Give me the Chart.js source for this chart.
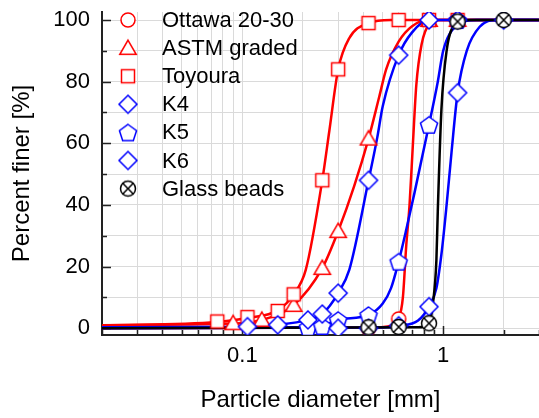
<!DOCTYPE html>
<html>
<head>
<meta charset="utf-8">
<title>Particle size distribution</title>
<script src="https://cdn.jsdelivr.net/npm/chart.js"></script>
<style>
  body { margin: 0; background: #fff; }
  #wrap { width: 539px; height: 418px; }
</style>
</head>
<body>
<div id="wrap"><canvas id="myChart"></canvas></div>
<script>
// measured points (sieve sizes in mm, percent finer)
var ottD = [0.425, 0.6, 0.85, 1.18];
var ottP = [0, 3, 100, 100];
var astmD = [0.09, 0.125, 0.18, 0.25, 0.3, 0.425, 0.85, 1.18];
var astmP = [1.6, 2.7, 7.5, 19.5, 31.5, 61.5, 100, 100];
var toyD = [0.075, 0.106, 0.15, 0.18, 0.25, 0.3, 0.425, 0.6, 0.85, 1.18];
var toyP = [2.2, 3.6, 5.6, 11, 48, 84, 99, 100, 100, 100];
var k4D = [0.106, 0.15, 0.212, 0.25, 0.3, 0.425, 0.6, 0.85, 1.18];
var k4P = [0.5, 1.1, 2.7, 4.6, 11.4, 48, 88.6, 100, 100];
var k5D = [0.212, 0.25, 0.3, 0.425, 0.6, 0.85, 1.18];
var k5P = [0.3, 0.7, 2.7, 4.3, 21.6, 66, 100];
var k6D = [0.3, 0.425, 0.6, 0.85, 1.18, 2.0];
var k6P = [0, 0, 0.8, 7, 76.4, 100];
var gbD = [0.425, 0.6, 0.85, 1.18, 2.0];
var gbP = [0.3, 0.4, 1.6, 99.5, 100];

// fitted curves
var ottFitD = [0.02, 0.45, 0.55, 0.6, 0.63, 0.655, 0.68, 0.707, 0.735, 0.78, 0.86, 0.95, 3];
var ottFitP = [0, 0.2, 0.8, 3, 10, 27, 40, 60, 79, 92, 99, 100, 100];
var astmFitD = [0.02, 0.09, 0.125, 0.18, 0.25, 0.3, 0.36, 0.425, 0.48, 0.52, 0.6, 0.7, 0.85, 3];
var astmFitP = [1.0, 1.5, 2.7, 7.5, 19.5, 31.5, 46, 61.5, 75, 84, 93, 98, 100, 100];
var toyFitD = [0.02, 0.075, 0.106, 0.15, 0.18, 0.207, 0.25, 0.271, 0.3, 0.34, 0.425, 0.55, 3];
var toyFitP = [0.9, 2.0, 3.3, 5.8, 11, 19, 48, 64, 84, 94, 99, 100, 100];
var k4FitD = [0.02, 0.106, 0.15, 0.212, 0.25, 0.3, 0.341, 0.425, 0.47, 0.5, 0.6, 0.7, 0.85, 3];
var k4FitP = [0.3, 0.5, 1.1, 2.7, 4.6, 11.4, 19, 48, 62, 72, 88.6, 96, 100, 100];
var k5FitD = [0.02, 0.212, 0.25, 0.3, 0.425, 0.5, 0.55, 0.6, 0.655, 0.72, 0.85, 0.94, 1.0, 1.16, 1.47, 3];
var k5FitP = [0.2, 0.3, 0.7, 2.7, 4.3, 8, 13, 21.6, 32, 44, 66, 80, 90, 98, 100, 100];
var k6FitD = [0.02, 0.5, 0.6, 0.75, 0.85, 0.925, 0.98, 1.04, 1.1, 1.18, 1.31, 1.52, 1.84, 3];
var k6FitP = [0, 0.2, 0.8, 2.5, 7, 13, 24, 40, 57, 76.4, 90, 97.8, 100, 100];
var gbFitD = [0.02, 0.75, 0.85, 0.889, 0.925, 0.94, 0.98, 1.04, 1.14, 1.36, 3];
var gbFitP = [0, 0.3, 1.6, 8, 22, 38, 71, 90, 98.4, 100, 100];

var xTickVals = [0.02, 0.03, 0.04, 0.05, 0.06, 0.07, 0.08, 0.09, 0.1,
                 0.2, 0.3, 0.4, 0.5, 0.6, 0.7, 0.8, 0.9, 1, 2, 3];
var xLabelVals = [0.1, 1];
var yTickVals = [0, 10, 20, 30, 40, 50, 60, 70, 80, 90, 100];

var FONT = '"Liberation Sans", Arial, sans-serif';
var RED = '#ff0000', BLUE = '#0000ff', BLACK = '#000000';

// marker images (open symbols, white fill)
function makeMarker(shape, color) {
    var s = 24;
    var c = document.createElement('canvas');
    c.width = s; c.height = s;
    var g = c.getContext('2d');
    var m = s / 2;
    g.lineWidth = 1.5;
    g.strokeStyle = color;
    g.fillStyle = '#fff';
    g.beginPath();
    if (shape === 'circle') {
        g.arc(m, m, 7, 0, Math.PI * 2);
    } else if (shape === 'triangle') {
        for (var i = 0; i < 3; i++) {
            var a = -Math.PI / 2 + i * 2 * Math.PI / 3;
            g.lineTo(m + 9.5 * Math.cos(a), m + 1.5 + 9.5 * Math.sin(a));
        }
        g.closePath();
    } else if (shape === 'square') {
        g.rect(m - 6.5, m - 6.5, 13, 13);
    } else if (shape === 'diamond') {
        g.moveTo(m, m - 9); g.lineTo(m + 9, m); g.lineTo(m, m + 9); g.lineTo(m - 9, m);
        g.closePath();
    } else if (shape === 'pentagon') {
        for (var j = 0; j < 5; j++) {
            var b = -Math.PI / 2 + j * 2 * Math.PI / 5;
            g.lineTo(m + 9 * Math.cos(b), m + 1 + 9 * Math.sin(b));
        }
        g.closePath();
    } else if (shape === 'circleX') {
        g.arc(m, m, 7.5, 0, Math.PI * 2);
    }
    g.fill();
    g.stroke();
    if (shape === 'circleX') {
        var k = 8 * Math.SQRT1_2;
        g.beginPath();
        g.moveTo(m - k, m - k); g.lineTo(m + k, m + k);
        g.moveTo(m + k, m - k); g.lineTo(m - k, m + k);
        g.stroke();
    }
    return c;
}

var mkOtt = makeMarker('circle', RED);
var mkAstm = makeMarker('triangle', RED);
var mkToy = makeMarker('square', RED);
var mkK4 = makeMarker('diamond', BLUE);
var mkK5 = makeMarker('pentagon', BLUE);
var mkK6 = makeMarker('diamond', BLUE);
var mkGb = makeMarker('circleX', BLACK);

function pts(d, p) {
    return d.map(function (x, i) { return { x: x, y: p[i] }; });
}

function fitSet(d, p, color, order) {
    return {
        data: pts(d, p), showLine: true, borderColor: color, borderWidth: 2.5,
        pointRadius: 0, pointHoverRadius: 0, cubicInterpolationMode: 'monotone',
        tension: 0.4, order: order
    };
}

function markSet(d, p, img, order) {
    return {
        data: pts(d, p), showLine: false, pointStyle: img, pointRadius: 8,
        pointHoverRadius: 8, order: order
    };
}

var legendItems = [
    ['Ottawa 20-30', mkOtt], ['ASTM graded', mkAstm], ['Toyoura', mkToy],
    ['K4', mkK4], ['K5', mkK5], ['K6', mkK6], ['Glass beads', mkGb]
];

var extras = {
    id: 'extras',
    beforeDatasetsDraw: function (chart) {
        var ctx = chart.ctx, a = chart.chartArea, sx = chart.scales.x, sy = chart.scales.y;
        ctx.save();
        ctx.strokeStyle = '#222';
        ctx.lineWidth = 1.5;
        ctx.beginPath();
        xTickVals.forEach(function (v) {
            var px = Math.round(sx.getPixelForValue(v)) + 0.5;
            var len = xLabelVals.indexOf(v) >= 0 ? 9 : 5;
            ctx.moveTo(px, a.bottom); ctx.lineTo(px, a.bottom - len);
        });
        yTickVals.forEach(function (v) {
            var py = Math.round(sy.getPixelForValue(v)) + 0.5;
            var len = v % 20 === 0 ? 9 : 5;
            ctx.moveTo(a.left, py); ctx.lineTo(a.left + len, py);
        });
        ctx.stroke();
        ctx.restore();
    },
    afterDraw: function (chart) {
        var ctx = chart.ctx, a = chart.chartArea;
        ctx.save();
        ctx.fillStyle = '#000';
        ctx.font = '22px ' + FONT;
        ctx.textBaseline = 'middle';
        ctx.textAlign = 'left';
        legendItems.forEach(function (it, i) {
            var y = 20 + i * 28.1;
            ctx.drawImage(it[1], 128 - it[1].width / 2, y - it[1].height / 2);
            ctx.fillText(it[0], 162, y + 1);
        });
        // axis titles
        ctx.font = '24px ' + FONT;
        ctx.textAlign = 'center';
        ctx.fillText('Particle diameter [mm]', (a.left + a.right) / 2, 400);
        ctx.translate(22, (a.top + a.bottom) / 2);
        ctx.rotate(-Math.PI / 2);
        ctx.fillText('Percent finer [%]', 0, 0);
        ctx.restore();
    }
};

var ctx = document.getElementById('myChart').getContext('2d');
var myChart = new Chart(ctx, {
    type: 'scatter',
    data: {
        datasets: [
            fitSet(ottFitD, ottFitP, RED, 30),
            fitSet(astmFitD, astmFitP, RED, 29),
            fitSet(toyFitD, toyFitP, RED, 28),
            fitSet(k4FitD, k4FitP, BLUE, 27),
            fitSet(k5FitD, k5FitP, BLUE, 26),
            fitSet(k6FitD, k6FitP, BLUE, 25),
            fitSet(gbFitD, gbFitP, BLACK, 24),
            markSet(ottD, ottP, mkOtt, 8),
            markSet(astmD, astmP, mkAstm, 7),
            markSet(toyD, toyP, mkToy, 6),
            markSet(k5D, k5P, mkK5, 5),
            markSet(k6D, k6P, mkK6, 4),
            markSet(k4D, k4P, mkK4, 3),
            markSet(gbD, gbP, mkGb, 2)
        ]
    },
    options: {
        responsive: true,
        maintainAspectRatio: false,
        animation: false,
        layout: { autoPadding: false, padding: { top: 12, right: 0, left: 0, bottom: 0 } },
        plugins: {
            legend: { display: false },
            tooltip: { enabled: false }
        },
        scales: {
            x: {
                type: 'logarithmic',
                min: 0.02,
                max: 3,
                afterBuildTicks: function (s) {
                    s.ticks = xTickVals.map(function (v) { return { value: v }; });
                },
                afterFit: function (s) {
                    s.height = 83;
                    s.paddingLeft = 0; s.paddingRight = 0;
                },
                ticks: {
                    autoSkip: false,
                    maxRotation: 0,
                    padding: 8,
                    color: '#000',
                    font: { family: FONT, size: 22 },
                    callback: function (v) { return xLabelVals.indexOf(v) >= 0 ? String(v) : ''; }
                },
                grid: { color: '#dadada', lineWidth: 1, drawTicks: false },
                border: { display: true, color: '#222', width: 2 }
            },
            y: {
                min: -2.2,
                max: 102.6,
                afterBuildTicks: function (s) {
                    s.ticks = yTickVals.map(function (v) { return { value: v }; });
                },
                afterFit: function (s) {
                    s.width = 102;
                    s.paddingTop = 0; s.paddingBottom = 0;
                },
                ticks: {
                    padding: 12,
                    color: '#000',
                    font: { family: FONT, size: 22 },
                    callback: function (v) { return v % 20 === 0 ? String(v) : ''; }
                },
                grid: { color: '#dadada', lineWidth: 1, drawTicks: false },
                border: { display: true, color: '#222', width: 2 }
            }
        }
    },
    plugins: [extras]
});
</script>
</body>
</html>
